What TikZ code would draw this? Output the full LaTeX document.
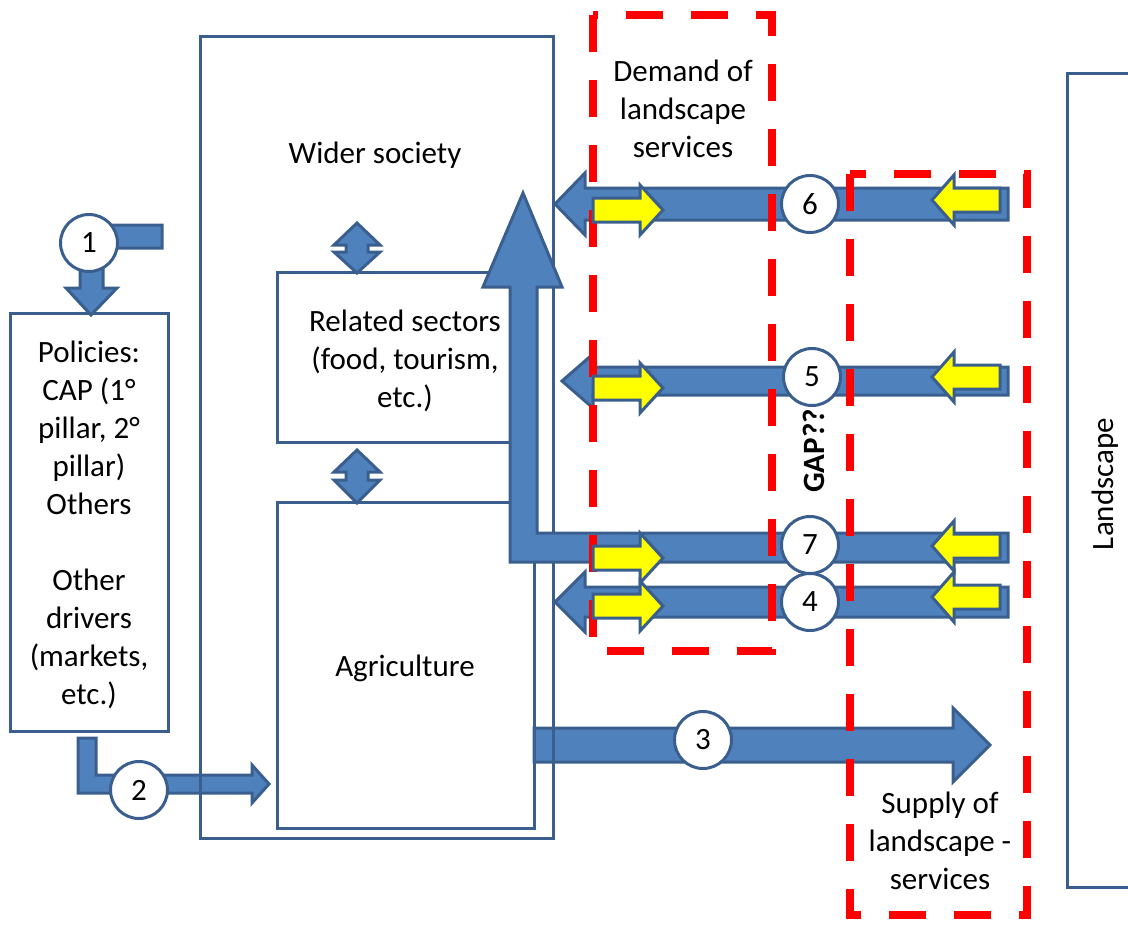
\documentclass[tikz,border=0pt]{standalone}
\usepackage{fontspec}
\setmainfont{Carlito}
\definecolor{bfill}{HTML}{4F81BD}
\definecolor{bline}{HTML}{3A5F8F}
\definecolor{yfill}{HTML}{FFFF00}
\definecolor{rdash}{HTML}{FF0000}
% left-pointing block arrow: tip x, tail x, centre y, shaft half, head half, head length, style
\newcommand{\blkL}[7]{\draw[#7] (#2,{#3-#4}) -- ({#1+#6},{#3-#4}) -- ({#1+#6},{#3-#5}) -- (#1,#3) -- ({#1+#6},{#3+#5}) -- ({#1+#6},{#3+#4}) -- (#2,{#3+#4}) -- cycle;}
% right-pointing block arrow
\newcommand{\blkR}[7]{\draw[#7] (#2,{#3-#4}) -- ({#1-#6},{#3-#4}) -- ({#1-#6},{#3-#5}) -- (#1,#3) -- ({#1-#6},{#3+#5}) -- ({#1-#6},{#3+#4}) -- (#2,{#3+#4}) -- cycle;}
\begin{document}
\begin{tikzpicture}[x=1pt,y=-1pt,
  box/.style={draw=bline, line width=3pt, inner sep=0pt, rectangle},
  barrow/.style={draw=bline, line width=3pt, fill=bfill},
  yarrow/.style={draw=bline, line width=3pt, fill=yfill},
  numc/.style={circle, draw=bline, line width=3pt, fill=white, minimum size=57pt, inner sep=0pt, font=\fontsize{31}{38}\selectfont},
  reddash/.style={draw=rdash, line width=7.5pt, dash pattern=on 37pt off 28pt},
  lbl/.style={align=center, inner sep=0pt, font=\fontsize{31}{38}\selectfont}]
\useasboundingbox (0,0) rectangle (1128,930);

% arrows lying under the box borders
\draw[barrow] (78,738) -- (96,738) -- (96,775) -- (252,775) -- (252,765) -- (269,784) -- (252,803) -- (252,793) -- (78,793) -- cycle;
\blkR{990}{534}{745}{17}{37}{37}{barrow}

% boxes
\node[box, minimum width=353pt, minimum height=802pt] (wider) at (376.5,437) {};
\node[box, minimum width=243pt, minimum height=170pt] (related) at (398.5,357) {};
\node[box, minimum width=257pt, minimum height=326pt] (agri) at (405.5,665) {};
\node[box, minimum width=158pt, minimum height=418pt] (policies) at (89,522) {};
\node[box, minimum width=83pt, minimum height=814pt] (landscape) at (1108.5,480) {};

% blue arrows
\blkL{555}{1008}{204}{16}{31}{30}{barrow}
\blkL{562}{1008}{381}{14}{27}{31}{barrow}
\draw[barrow] (1008,533) -- (537,533) -- (537,287) -- (562,287) -- (523,193) -- (483,287) -- (510,287) -- (510,562) -- (1008,562) -- cycle;
\blkL{555}{1008}{602}{15}{30}{30}{barrow}
\draw[barrow] (162,225) -- (162,248) -- (103,248) -- (103,288) -- (117,288) -- (91,315) -- (66,288) -- (80,288) -- (80,225) -- cycle;
% double arrows
\draw[barrow] (357,223) -- (380,245) -- (368,245) -- (368,252) -- (380,252) -- (357,273) -- (334,252) -- (346,252) -- (346,245) -- (334,245) -- cycle;
\draw[barrow] (357,450) -- (380,472) -- (368,472) -- (368,480) -- (380,480) -- (357,503) -- (334,480) -- (346,480) -- (346,472) -- (334,472) -- cycle;

% red dashed frames
\draw[reddash] (593,15) rectangle (772,651);
\draw[reddash] (850,174) rectangle (1027,915);

% yellow arrows
\blkR{663}{593}{210}{12}{25}{23}{yarrow}
\blkR{663}{593}{388}{12}{25}{23}{yarrow}
\blkR{663}{593}{558}{12}{25}{23}{yarrow}
\blkR{663}{593}{606}{12}{25}{23}{yarrow}
\blkL{932}{1000}{200}{12}{25}{22}{yarrow}
\blkL{932}{1000}{377}{12}{25}{22}{yarrow}
\blkL{932}{1000}{546}{12}{25}{22}{yarrow}
\blkL{932}{1000}{597}{12}{25}{22}{yarrow}

% numbered circles
\node[numc] (c1) at (89,243) {1};
\node[numc] (c2) at (139,790) {2};
\node[numc] (c3) at (703,740) {3};
\node[numc] (c4) at (810,602) {4};
\node[numc] (c5) at (812,377) {5};
\node[numc] (c6) at (810,204) {6};
\node[numc] (c7) at (810,545) {7};

% texts
\node[lbl] (tw) at (375,155) {Wider society};
\node[lbl] (tr) at (405,361) {Related sectors\\(food, tourism,\\etc.)};
\node[lbl] (ta) at (405,668) {Agriculture};
\node[lbl] (tp) at (89,525) {Policies:\\CAP (1°\\pillar, 2°\\pillar)\\Others\\[38pt]Other\\drivers\\(markets,\\etc.)};
\node[lbl] (td) at (683,109) {Demand of\\landscape\\services};
\node[lbl] (ts) at (940,841) {Supply of\\landscape -\\services};
\node[lbl, rotate=90, font=\fontsize{31}{38}\selectfont\bfseries] (tg) at (814,451) {GAP??};
\node[lbl, rotate=90] (tl) at (1105,484) {Landscape};
\end{tikzpicture}
\end{document}
